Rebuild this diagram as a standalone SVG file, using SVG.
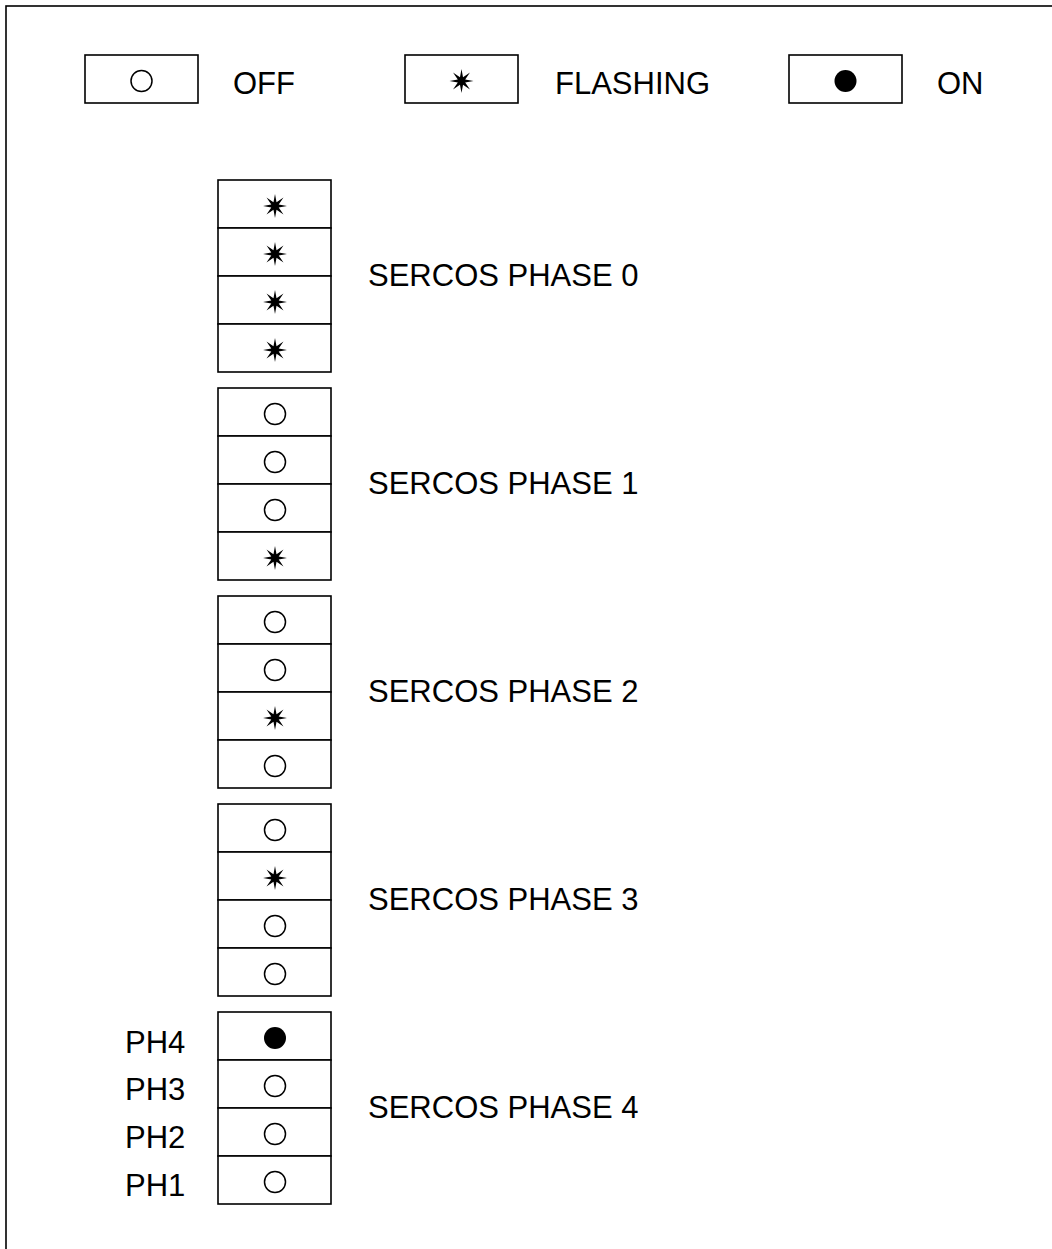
<svg xmlns="http://www.w3.org/2000/svg" xmlns:xlink="http://www.w3.org/1999/xlink" width="1052" height="1249" viewBox="0 0 1052 1249">
<style>
.box{fill:#fff;stroke:#000;stroke-width:1.6}
.lbl{font-family:"Liberation Sans",Arial,sans-serif;font-size:31px;fill:#000}
.off{fill:none;stroke:#000;stroke-width:1.5}
.on{fill:#000}
.fl{fill:#000}
</style>
<defs>
<circle id="sOff" class="off" r="10.5"/>
<circle id="sOn" class="on" r="11"/>
<path id="sFl" class="fl" d="M12,0 L3.7,1.53 L8.49,8.49 L1.53,3.7 L0,12 L-1.53,3.7 L-8.49,8.49 L-3.7,1.53 L-12,0 L-3.7,-1.53 L-8.49,-8.49 L-1.53,-3.7 L0,-12 L1.53,-3.7 L8.49,-8.49 L3.7,-1.53 Z"/>
</defs>
<rect width="1052" height="1249" fill="#fff"/>
<rect x="6" y="6" width="1080" height="1280" fill="none" stroke="#000" stroke-width="1.6"/>

<g id="legend-off">
<rect class="box" x="85" y="55" width="113" height="48"/>
<use href="#sOff" x="141.5" y="81"/>
<text class="lbl" x="233" y="94">OFF</text>
</g>
<g id="legend-flashing">
<rect class="box" x="405" y="55" width="113" height="48"/>
<use href="#sFl" x="461.5" y="81"/>
<text class="lbl" x="555" y="94">FLASHING</text>
</g>
<g id="legend-on">
<rect class="box" x="789" y="55" width="113" height="48"/>
<use href="#sOn" x="845.5" y="81"/>
<text class="lbl" x="937" y="94">ON</text>
</g>

<g id="phase0">
<rect class="box" x="218" y="180" width="113" height="48"/>
<rect class="box" x="218" y="228" width="113" height="48"/>
<rect class="box" x="218" y="276" width="113" height="48"/>
<rect class="box" x="218" y="324" width="113" height="48"/>
<use href="#sFl" x="275" y="206"/>
<use href="#sFl" x="275" y="254"/>
<use href="#sFl" x="275" y="302"/>
<use href="#sFl" x="275" y="350"/>
<text class="lbl" x="368" y="286">SERCOS PHASE 0</text>
</g>

<g id="phase1">
<rect class="box" x="218" y="388" width="113" height="48"/>
<rect class="box" x="218" y="436" width="113" height="48"/>
<rect class="box" x="218" y="484" width="113" height="48"/>
<rect class="box" x="218" y="532" width="113" height="48"/>
<use href="#sOff" x="275" y="414"/>
<use href="#sOff" x="275" y="462"/>
<use href="#sOff" x="275" y="510"/>
<use href="#sFl" x="275" y="558"/>
<text class="lbl" x="368" y="494">SERCOS PHASE 1</text>
</g>

<g id="phase2">
<rect class="box" x="218" y="596" width="113" height="48"/>
<rect class="box" x="218" y="644" width="113" height="48"/>
<rect class="box" x="218" y="692" width="113" height="48"/>
<rect class="box" x="218" y="740" width="113" height="48"/>
<use href="#sOff" x="275" y="622"/>
<use href="#sOff" x="275" y="670"/>
<use href="#sFl" x="275" y="718"/>
<use href="#sOff" x="275" y="766"/>
<text class="lbl" x="368" y="702">SERCOS PHASE 2</text>
</g>

<g id="phase3">
<rect class="box" x="218" y="804" width="113" height="48"/>
<rect class="box" x="218" y="852" width="113" height="48"/>
<rect class="box" x="218" y="900" width="113" height="48"/>
<rect class="box" x="218" y="948" width="113" height="48"/>
<use href="#sOff" x="275" y="830"/>
<use href="#sFl" x="275" y="878"/>
<use href="#sOff" x="275" y="926"/>
<use href="#sOff" x="275" y="974"/>
<text class="lbl" x="368" y="910">SERCOS PHASE 3</text>
</g>

<g id="phase4">
<rect class="box" x="218" y="1012" width="113" height="48"/>
<rect class="box" x="218" y="1060" width="113" height="48"/>
<rect class="box" x="218" y="1108" width="113" height="48"/>
<rect class="box" x="218" y="1156" width="113" height="48"/>
<use href="#sOn" x="275" y="1038"/>
<use href="#sOff" x="275" y="1086"/>
<use href="#sOff" x="275" y="1134"/>
<use href="#sOff" x="275" y="1182"/>
<text class="lbl" x="368" y="1118">SERCOS PHASE 4</text>
<text class="lbl" x="125" y="1053">PH4</text>
<text class="lbl" x="125" y="1100">PH3</text>
<text class="lbl" x="125" y="1148">PH2</text>
<text class="lbl" x="125" y="1196">PH1</text>
</g>

<g id="connectors"></g>
</svg>
